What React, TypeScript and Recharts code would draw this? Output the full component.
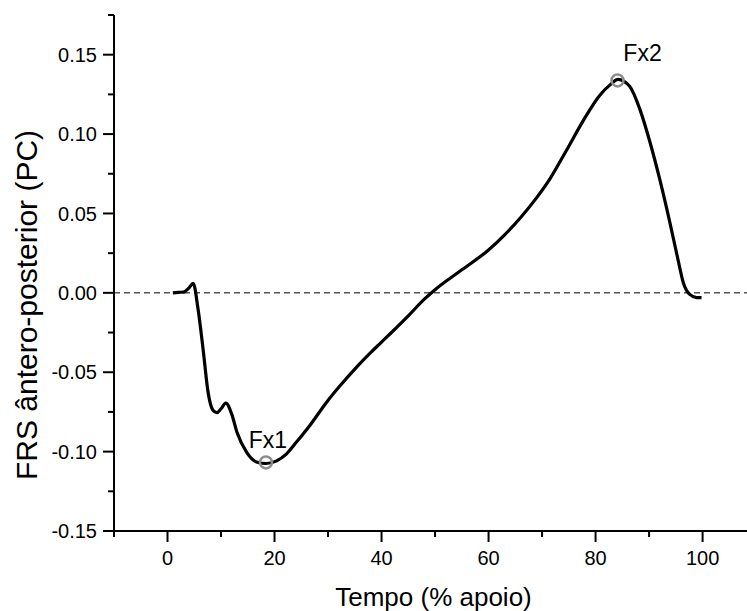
import React from 'react';
import { ComposedChart, Line, XAxis, YAxis, ReferenceLine, ReferenceDot, Label } from 'recharts';

// Tempo (% apoio) vs FRS ântero-posterior (PC)
const timePct = [
  1, 2, 3, 4, 4.8, 5.7, 6.65, 7.6, 8.5, 9.2, 10, 10.9, 12, 13, 14.8, 16.6, 18.4, 20.4, 22.2, 24.1,
  26.6, 29.7, 32, 35, 38, 40, 42, 45, 48, 50, 55, 60, 63, 66, 69, 71.5, 74.6, 77.7, 80.8, 82.7,
  84.2, 86.4, 88.3, 90.2, 92, 93.9, 95.4, 96.4, 97.6, 98.9, 99.8,
];
const frsAP = [
  0, 0.0003, 0.0005, 0.003, 0.006, -0.01, -0.0355, -0.063, -0.074, -0.0755, -0.073, -0.0695,
  -0.0764, -0.088, -0.1005, -0.1065, -0.1075, -0.1058, -0.1016, -0.094, -0.0835, -0.069, -0.0595,
  -0.048, -0.0375, -0.031, -0.0245, -0.0145, -0.004, 0.002, 0.0145, 0.027, 0.0365, 0.0475, 0.06,
  0.072, 0.09, 0.1085, 0.1245, 0.131, 0.1345, 0.13, 0.1154, 0.0945, 0.0714, 0.0441, 0.021,
  0.0064, -0.001, -0.003, -0.003,
];

// marcadores Fx1 / Fx2
const peakNames = ['Fx1', 'Fx2'];
const peakTime = [18.4, 84.1];
const peakValue = [-0.1068, 0.1338];

const xMajorTicks = [0, 20, 40, 60, 80, 100];
const xMinorTicks = [-10, 10, 30, 50, 70, 90];
const yMajorTicks = [-0.15, -0.1, -0.05, 0, 0.05, 0.1, 0.15];
const yMinorTicks = [-0.125, -0.075, -0.025, 0.025, 0.075, 0.125, 0.175];

const FONT = '"Liberation Sans", Arial, sans-serif';

const data = timePct.map((t, i) => ({ t, v: frsAP[i] }));
const xTicks = [...xMinorTicks, ...xMajorTicks].sort((a, b) => a - b);
const yTicks = [...yMinorTicks, ...yMajorTicks].sort((a, b) => a - b);

const isMajor = (list: number[], v: number) => list.some((m) => Math.abs(m - v) < 1e-9);

function XTick(props: any) {
  const { x, y, payload } = props;
  const major = isMajor(xMajorTicks, payload.value);
  return (
    <g>
      <line x1={x} x2={x} y1={y} y2={y + (major ? 11 : 6)} stroke="#000" strokeWidth={2} />
      {major && (
        <text x={x} y={y + 34} textAnchor="middle" fontSize={20} fontFamily={FONT} fill="#000">
          {payload.value}
        </text>
      )}
    </g>
  );
}

function YTick(props: any) {
  const { x, y, payload } = props;
  const major = isMajor(yMajorTicks, payload.value);
  return (
    <g>
      <line x1={x - (major ? 11 : 6)} x2={x} y1={y} y2={y} stroke="#000" strokeWidth={2} />
      {major && (
        <text x={x - 17} y={y} dy="0.36em" textAnchor="end" fontSize={20} fontFamily={FONT} fill="#000">
          {payload.value.toFixed(2)}
        </text>
      )}
    </g>
  );
}

function peakLabel(name: string, dx: number, dy: number) {
  return (props: any) => {
    const vb = props.viewBox;
    const cx = vb.x + vb.width / 2;
    const cy = vb.y + vb.height / 2;
    return (
      <text x={cx + dx} y={cy - dy} textAnchor="middle" fontSize={23} fontFamily={FONT} fill="#000">
        {name}
      </text>
    );
  };
}

const labelOffsets = [
  [2, 14],
  [25, 19],
];

export default function App() {
  return (
    <div style={{ position: 'absolute', left: 0, top: 0, background: '#fff' }}>
      <ComposedChart width={747} height={611} data={data} margin={{ top: 15, right: 0, bottom: 0, left: 0 }}>
        <XAxis
          type="number"
          dataKey="t"
          domain={[-10, 108.3]}
          ticks={xTicks}
          interval={0}
          tick={<XTick />}
          tickLine={false}
          tickSize={0}
          tickMargin={0}
          height={80}
          axisLine={{ stroke: '#000', strokeWidth: 2 }}
          allowDataOverflow
        >
          <Label
            content={(p: any) => (
              <text
                x={p.viewBox.x + p.viewBox.width / 2 + 3}
                y={p.viewBox.y + 75}
                textAnchor="middle"
                fontSize={26}
                fontFamily={FONT}
                fill="#000"
              >
                Tempo (% apoio)
              </text>
            )}
          />
        </XAxis>
        <YAxis
          type="number"
          domain={[-0.15, 0.175]}
          ticks={yTicks}
          interval={0}
          tick={<YTick />}
          tickLine={false}
          tickSize={0}
          tickMargin={0}
          width={114}
          axisLine={{ stroke: '#000', strokeWidth: 2 }}
          allowDataOverflow
        >
          <Label
            content={() => {
              const cx = 37;
              const cy = 305;
              return (
                <text
                  x={cx}
                  y={cy}
                  transform={`rotate(-90 ${cx} ${cy})`}
                  textAnchor="middle"
                  fontSize={30}
                  fontFamily={FONT}
                  fill="#000"
                >
                  FRS ântero-posterior (PC)
                </text>
              );
            }}
          />
        </YAxis>
        <ReferenceLine y={0} stroke="#000" strokeWidth={1} strokeDasharray="6 4" />
        <Line
          type="monotone"
          dataKey="v"
          stroke="#000"
          strokeWidth={3.2}
          dot={false}
          activeDot={false}
          isAnimationActive={false}
        />
        {peakNames.map((name, i) => (
          <ReferenceDot
            key={name}
            x={peakTime[i]}
            y={peakValue[i]}
            r={6}
            fill="none"
            stroke="#8c8c8c"
            strokeWidth={2.5}
            label={peakLabel(name, labelOffsets[i][0], labelOffsets[i][1])}
          />
        ))}
      </ComposedChart>
    </div>
  );
}
